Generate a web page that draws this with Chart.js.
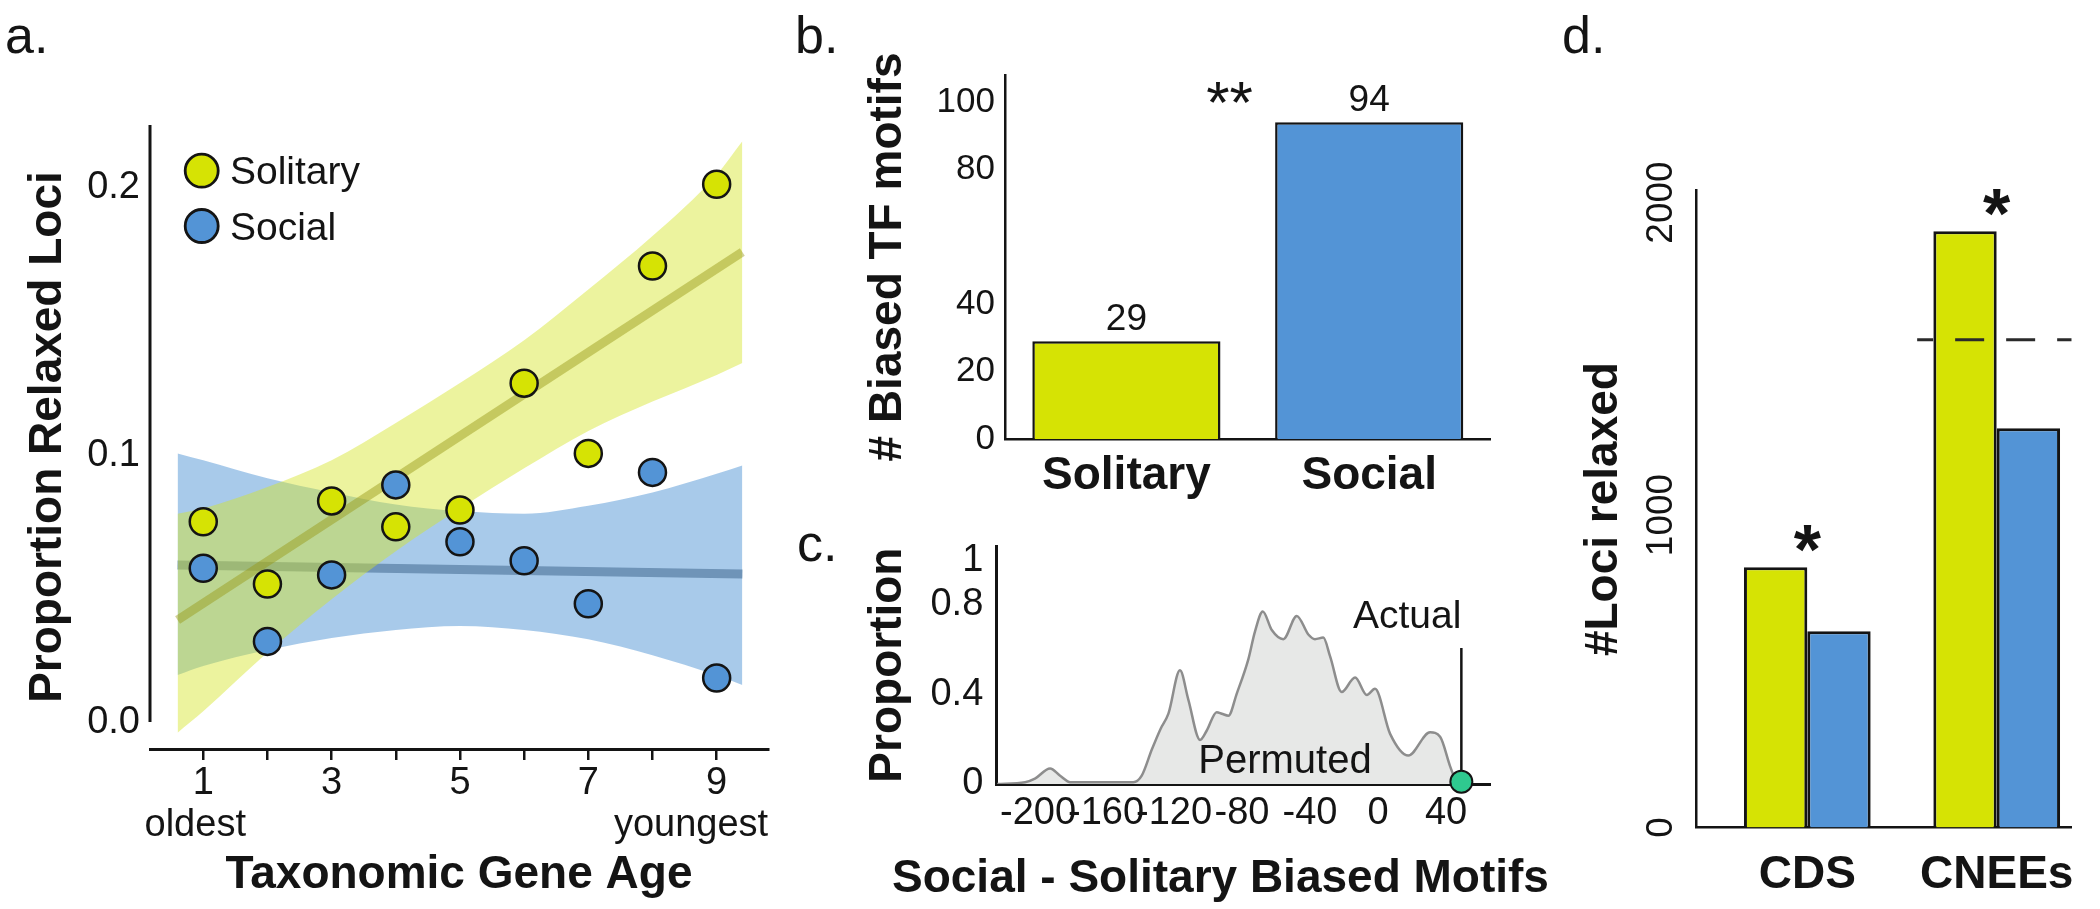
<!DOCTYPE html>
<html>
<head>
<meta charset="utf-8">
<script src="https://cdn.jsdelivr.net/npm/chart.js@4.4.1/dist/chart.umd.min.js"></script>
<style>
  body { margin: 0; background: #fff; width: 2100px; height: 909px; position: relative; overflow: hidden;
         font-family: "Liberation Sans", Arial, Helvetica, sans-serif; }
  canvas { position: absolute; }
  .tag { position: absolute; font-size: 52px; line-height: 52px; color: #141414; z-index: 5; }
</style>
</head>
<body>
<canvas id="pa" width="800" height="909" style="left:0;top:0"></canvas>
<canvas id="pb" width="710" height="510" style="left:790px;top:0"></canvas>
<canvas id="pc" width="790" height="399" style="left:790px;top:510px"></canvas>
<canvas id="pd" width="540" height="909" style="left:1560px;top:0"></canvas>
<div class="tag" style="left:5px;top:9px">a.</div>
<div class="tag" style="left:795px;top:9px">b.</div>
<div class="tag" style="left:797px;top:517px">c.</div>
<div class="tag" style="left:1562px;top:9px">d.</div>
<script>
// ---- panel a: proportion relaxed by gene age
const ageX = [1, 2, 3, 4, 5, 6, 7, 8, 9];
const solitaryProp = [0.075, 0.0517, 0.0828, 0.0731, 0.0794, 0.1269, 0.1006, 0.1708, 0.2014];
const socialProp = [0.0576, 0.0302, 0.0551, 0.0888, 0.0675, 0.0604, 0.0443, 0.0935, 0.0165];
const fitX = [0.6, 9.4];
const solitaryFit = [0.0382, 0.176];
const socialFit = [0.0588, 0.0554];
const bandX = [0.6, 1, 2, 3, 4, 5, 6, 7, 8, 9, 9.4];
const solitaryLo = [-0.004, 0.004, 0.026, 0.046, 0.064, 0.08, 0.095, 0.109, 0.12, 0.13, 0.1345];
const solitaryHi = [0.078, 0.08, 0.088, 0.098, 0.112, 0.127, 0.143, 0.162, 0.182, 0.205, 0.2175];
const socialLo = [0.0176, 0.021, 0.027, 0.0315, 0.0345, 0.036, 0.0345, 0.031, 0.025, 0.0175, 0.0139];
const socialHi = [0.1006, 0.098, 0.0913, 0.086, 0.0815, 0.079, 0.078, 0.081, 0.086, 0.093, 0.0961];
const propTicksA = [0, 0.1, 0.2];

// ---- panel b: biased TF motifs
const motifGroups = ["Solitary", "Social"];
const motifCounts = [29, 94];
const motifTicks = [0, 20, 40, 80, 100];

// ---- panel c: permuted difference distribution
const diffX = [-224, -207.6, -201.8, -192.9, -187, -181, -144, -139, -133, -128, -123.3, -116.5, -111.6,
  -104.7, -100.8, -94.9, -91.9, -88, -83.1, -76.3, -72.4, -67.8, -62.5, -55.7, -47.8, -41, -37.1,
  -32.2, -28.2, -21.4, -13.5, -6.6, -1.8, 7.1, 17.8, 30.6, 36.5, 42.4, 46.3];
const diffDensity = [0, 0.008, 0.024, 0.069, 0.037, 0.008, 0.008, 0.037, 0.155, 0.245, 0.314, 0.508, 0.377,
  0.197, 0.238, 0.321, 0.314, 0.305, 0.404, 0.557, 0.681, 0.771, 0.688, 0.647, 0.751, 0.668, 0.647,
  0.654, 0.57, 0.411, 0.476, 0.398, 0.425, 0.224, 0.127, 0.231, 0.211, 0.079, 0];
const actualDiff = 49;
const actualTop = 0.607;
const diffTicks = [-200, -160, -120, -80, -40, 0, 40];
const densTicks = [0, 0.4, 0.8, 1];

// ---- panel d: loci relaxed
const lociClasses = ["CDS", "CNEEs"];
const solitaryLoci = [833, 1908];
const socialLoci = [628, 1278];
const lociNull = 1561;
const lociTicks = [0, 1000, 2000];

const INK = "#141414";
const YEL = "#d6e304";
const BLU = "#5394d6";
const FAM = '"Liberation Sans", Arial, Helvetica, sans-serif';

Chart.defaults.font.family = FAM;
Chart.defaults.color = INK;
Chart.defaults.animation = false;
Chart.defaults.plugins.legend.display = false;
Chart.defaults.plugins.tooltip.enabled = false;

let pts = (xs, ys) => xs.map((x, i) => ({ x: x, y: ys[i] }));
let fixTicks = (vals) => (s) => { s.ticks = vals.map((v) => ({ value: v })); };
let txt = (ctx, s, x, y, font, align, base) => {
  ctx.font = font + " " + FAM;
  ctx.textAlign = align || "center";
  ctx.textBaseline = base || "alphabetic";
  ctx.fillStyle = INK;
  ctx.fillText(s, x, y);
};

renderAgeChart();
renderMotifChart();
renderPermChart();
renderLociChart();

function renderAgeChart() {
  let extras = {
    id: "ageExtras",
    afterDraw(chart) {
      const { ctx, chartArea, scales } = chart;
      ctx.save();
      //y axis line only goes down to 0
      ctx.strokeStyle = INK;
      ctx.lineWidth = 3;
      ctx.beginPath();
      ctx.moveTo(chartArea.left, chartArea.top);
      ctx.lineTo(chartArea.left, scales.y.getPixelForValue(0));
      ctx.stroke();
      //legend
      [0, 1].forEach((i) => {
        const ds = chart.data.datasets[i];
        const cy = 170.7 + i * 55.3;
        ctx.beginPath();
        ctx.arc(201.7, cy, 16.5, 0, Math.PI * 2);
        ctx.fillStyle = ds.backgroundColor;
        ctx.fill();
        ctx.lineWidth = 2.8;
        ctx.strokeStyle = INK;
        ctx.stroke();
        txt(ctx, ds.label, 230, cy + 13.5, "39px", "left");
      });
      txt(ctx, "oldest", scales.x.getPixelForValue(0.875), 835.5, "38px");
      txt(ctx, "youngest", scales.x.getPixelForValue(8.6), 835.5, "38px");
      ctx.restore();
    },
  };

  let band = (data, color, fill, order) => ({
    data: data,
    showLine: true,
    fill: fill,
    backgroundColor: color,
    borderColor: "rgba(0,0,0,0)",
    borderWidth: 1,
    pointRadius: 0,
    tension: 0.4,
    cubicInterpolationMode: "monotone",
    order: order,
  });

  new Chart(document.querySelector("#pa"), {
    type: "line",
    data: {
      datasets: [
        { label: "Solitary", data: pts(ageX, solitaryProp), showLine: false, backgroundColor: YEL,
          borderColor: INK, borderWidth: 2.5, pointRadius: 13.5, order: 1 },
        { label: "Social", data: pts(ageX, socialProp), showLine: false, backgroundColor: BLU,
          borderColor: INK, borderWidth: 2.5, pointRadius: 13.5, order: 2 },
        { data: pts(fitX, solitaryFit), borderColor: "rgba(150,150,20,0.45)", borderWidth: 9,
          pointRadius: 0, order: 3 },
        band(pts(bandX, solitaryHi), "rgba(213,229,40,0.45)", 4, 4),
        band(pts(bandX, solitaryLo), "rgba(0,0,0,0)", false, 5),
        { data: pts(fitX, socialFit), borderColor: "rgb(111,148,184)", borderWidth: 9,
          pointRadius: 0, order: 6 },
        band(pts(bandX, socialHi), "rgba(82,150,213,0.5)", 7, 7),
        band(pts(bandX, socialLo), "rgba(0,0,0,0)", false, 8),
      ],
    },
    options: {
      responsive: false,
      layout: { padding: { top: 125, right: 32, left: 0, bottom: 0 } },
      scales: {
        x: {
          type: "linear",
          min: 0.17,
          max: 9.8,
          afterBuildTicks: fixTicks(ageX),
          afterFit: (s) => { s.height = 160; },
          border: { display: true, color: INK, width: 3 },
          grid: { display: true, drawOnChartArea: false, drawTicks: true, tickLength: 11, color: INK, lineWidth: 2.5 },
          ticks: { font: { size: 38 }, color: INK, padding: 1, autoSkip: false, maxRotation: 0,
            callback: (v) => (v % 2 ? String(v) : "") },
          title: { display: true, text: "Taxonomic Gene Age", color: INK,
            font: { size: 46, weight: "bold" }, padding: { top: 0, bottom: 5.6 } },
        },
        y: {
          min: -0.0101,
          max: 0.2236,
          afterBuildTicks: fixTicks(propTicksA),
          afterFit: (s) => { s.width = 150; },
          border: { display: false },
          grid: { display: false, drawTicks: false },
          ticks: { font: { size: 38 }, color: INK, padding: 10, callback: (v) => v.toFixed(1) },
          title: { display: true, text: "Proportion Relaxed Loci", color: INK,
            font: { size: 46, weight: "bold" }, padding: { top: 20.3, bottom: 0 } },
        },
      },
    },
    plugins: [extras],
  });
}

function renderMotifChart() {
  let extras = {
    id: "motifExtras",
    afterDraw(chart) {
      const { ctx } = chart;
      ctx.save();
      chart.getDatasetMeta(0).data.forEach((bar, i) => {
        txt(ctx, String(motifCounts[i]), bar.x, bar.y - 11, "37px");
      });
      txt(ctx, "**", 439.5, 122.5, "60px");
      ctx.restore();
    },
  };

  new Chart(document.querySelector("#pb"), {
    type: "bar",
    data: {
      labels: motifGroups,
      datasets: [
        {
          data: motifCounts,
          backgroundColor: [YEL, BLU],
          borderColor: INK,
          borderWidth: 2.5,
          barPercentage: 0.775,
          categoryPercentage: 1,
        },
      ],
    },
    options: {
      responsive: false,
      layout: { padding: { top: 75, right: 9.4, left: 0, bottom: 0 } },
      scales: {
        x: {
          afterFit: (s) => { s.height = 71; },
          border: { display: true, color: INK, width: 2.5 },
          grid: { display: false, drawTicks: false },
          ticks: { font: { size: 46, weight: "bold" }, color: INK, padding: 9.4 },
        },
        y: {
          min: 0,
          max: 108,
          afterBuildTicks: fixTicks(motifTicks),
          afterFit: (s) => { s.width = 215; },
          border: { display: true, color: INK, width: 2.5 },
          grid: { display: false, drawTicks: false },
          ticks: { font: { size: 35 }, color: INK, padding: 10 },
          title: { display: true, text: "# Biased TF motifs", color: INK,
            font: { size: 46, weight: "bold" }, padding: { top: 71, bottom: 0 } },
        },
      },
    },
    plugins: [extras],
  });
}

function renderPermChart() {
  let extras = {
    id: "permExtras",
    afterDraw(chart) {
      const { ctx } = chart;
      ctx.save();
      txt(ctx, "Actual", 563, 118.3, "39px", "left");
      txt(ctx, "Permuted", 408.3, 263.3, "40px", "left");
      txt(ctx, "Social - Solitary Biased Motifs", 102, 382, "bold 46px", "left");
      ctx.restore();
    },
  };

  new Chart(document.querySelector("#pc"), {
    type: "line",
    data: {
      datasets: [
        { data: [{ x: actualDiff, y: 0.01 }], showLine: false, backgroundColor: "#2fc98f",
          borderColor: INK, borderWidth: 2, pointRadius: 11, clip: false, order: 0 },
        { data: [{ x: actualDiff, y: 0 }, { x: actualDiff, y: actualTop }], borderColor: INK,
          borderWidth: 2.5, pointRadius: 0, order: 1 },
        { data: pts(diffX, diffDensity), borderColor: "#8d8d8d", borderWidth: 2.5,
          backgroundColor: "#e7e8e7", fill: "origin", pointRadius: 0, tension: 0.4,
          cubicInterpolationMode: "monotone", order: 2 },
      ],
    },
    options: {
      responsive: false,
      layout: { padding: { top: 18.3, right: 89.4, left: 0, bottom: 0 } },
      scales: {
        x: {
          type: "linear",
          min: -224.3,
          max: 66.2,
          afterBuildTicks: fixTicks(diffTicks),
          afterFit: (s) => { s.height = 125; },
          border: { display: true, color: INK, width: 3 },
          grid: { display: false, drawTicks: false },
          ticks: { font: { size: 38 }, color: INK, padding: 6.7, autoSkip: false, maxRotation: 0,
            callback: (v) => String(v) },
        },
        y: {
          min: 0,
          max: 1.0623,
          afterBuildTicks: fixTicks(densTicks),
          afterFit: (s) => { s.width = 206.7; },
          border: { display: true, color: INK, width: 3 },
          grid: { display: false, drawTicks: false },
          ticks: { font: { size: 38 }, color: INK, padding: 13.4, callback: (v) => String(v) },
          title: { display: true, text: "Proportion", color: INK,
            font: { size: 46, weight: "bold" }, padding: { top: 71, bottom: 0 } },
        },
      },
    },
    plugins: [extras],
  });
}

function renderLociChart() {
  let extras = {
    id: "lociExtras",
    afterDraw(chart) {
      const { ctx, scales } = chart;
      ctx.save();
      //rotated y tick labels
      scales.y.ticks.forEach((t) => {
        ctx.save();
        ctx.translate(101.7, scales.y.getPixelForValue(t.value));
        ctx.rotate(-Math.PI / 2);
        txt(ctx, String(t.value), 0, 0, "37px", "center", "middle");
        ctx.restore();
      });
      //significance stars over each group
      lociClasses.forEach((c, i) => {
        const top = Math.max(solitaryLoci[i], socialLoci[i]);
        txt(ctx, "*", scales.x.getPixelForValue(i + 1), scales.y.getPixelForValue(top) - 33.5 + 40, "bold 70px");
      });
      ctx.restore();
    },
  };

  let bars = (vals, color) => ({
    data: pts([1, 2], vals),
    backgroundColor: color,
    borderColor: INK,
    borderWidth: 3,
    categoryPercentage: 0.669,
    barPercentage: 1,
    order: 2,
  });

  new Chart(document.querySelector("#pd"), {
    type: "bar",
    data: {
      datasets: [
        { type: "line", data: [{ x: 1.58, y: lociNull }, { x: 2.396, y: lociNull }], borderColor: "#2a2a2a",
          borderWidth: 3, borderDash: [29, 22], borderDashOffset: 13, pointRadius: 0, order: 0 },
        bars(solitaryLoci, YEL),
        bars(socialLoci, BLU),
      ],
    },
    options: {
      responsive: false,
      layout: { padding: { top: 190.7, right: 28.3, left: 0, bottom: 0 } },
      scales: {
        x: {
          type: "linear",
          min: 0.416,
          max: 2.396,
          offset: false,
          afterBuildTicks: fixTicks([1, 2]),
          afterFit: (s) => { s.height = 81.5; },
          border: { display: true, color: INK, width: 2.5 },
          grid: { display: false, drawTicks: false },
          ticks: { font: { size: 46, weight: "bold" }, color: INK, padding: 20.7,
            callback: (v) => lociClasses[v - 1] },
        },
        y: {
          min: 0,
          max: 2037.8,
          afterBuildTicks: fixTicks(lociTicks),
          afterFit: (s) => { s.width = 136.7; },
          border: { display: true, color: INK, width: 2.5 },
          grid: { display: false, drawTicks: false },
          ticks: { display: false },
          title: { display: true, text: "#Loci relaxed", color: INK,
            font: { size: 46, weight: "bold" }, padding: { top: 16.4, bottom: 0 } },
        },
      },
    },
    plugins: [extras],
  });
}
</script>
</body>
</html>
